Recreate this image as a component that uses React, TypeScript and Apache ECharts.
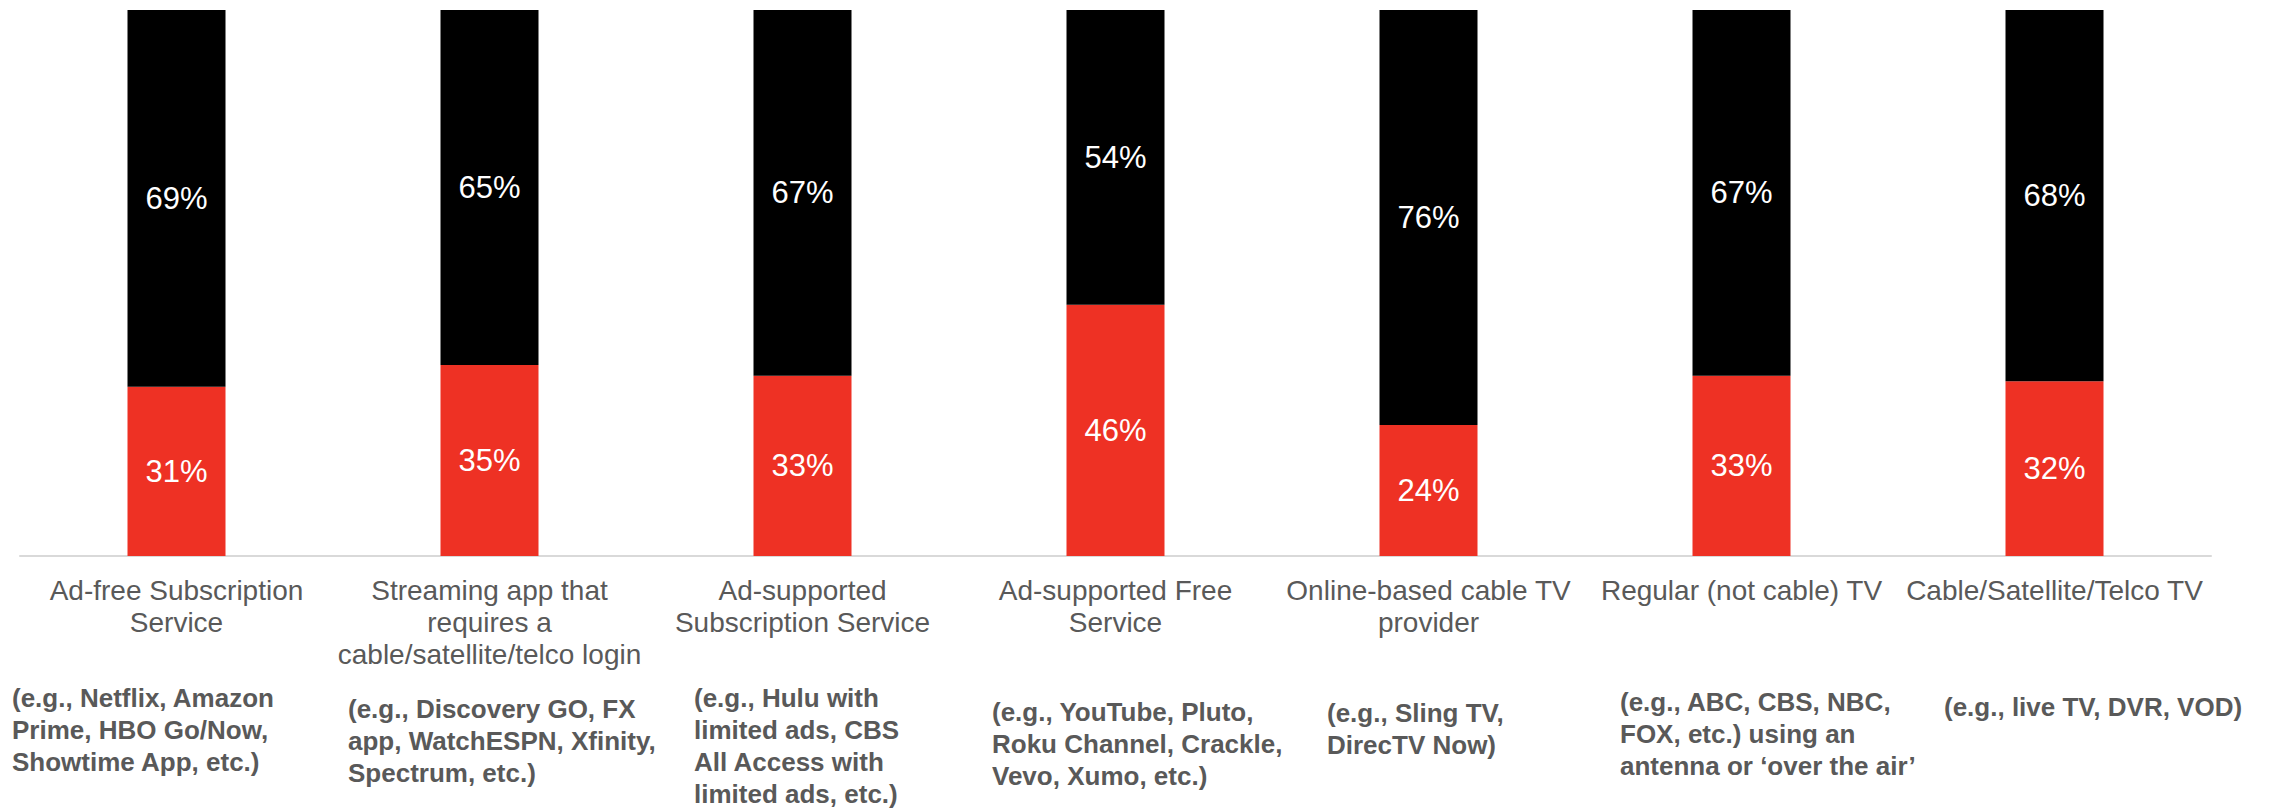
import React, { useEffect, useRef } from "react";
import * as echarts from "echarts";

const categories = [
  "Ad-free Subscription\nService",
  "Streaming app that\nrequires a\ncable/satellite/telco login",
  "Ad-supported\nSubscription Service",
  "Ad-supported Free\nService",
  "Online-based cable TV\nprovider",
  "Regular (not cable) TV",
  "Cable/Satellite/Telco TV",
];
const redValues = [31, 35, 33, 46, 24, 33, 32];
const blackValues = [69, 65, 67, 54, 76, 67, 68];
const examples = [
  "(e.g., Netflix, Amazon\nPrime, HBO Go/Now,\nShowtime App, etc.)",
  "(e.g., Discovery GO, FX\napp, WatchESPN, Xfinity,\nSpectrum, etc.)",
  "(e.g., Hulu with\nlimited ads, CBS\nAll Access with\nlimited ads, etc.)",
  "(e.g., YouTube, Pluto,\nRoku Channel, Crackle,\nVevo, Xumo, etc.)",
  "(e.g., Sling TV,\nDirecTV Now)",
  "(e.g., ABC, CBS, NBC,\nFOX, etc.) using an\nantenna or \u2018over the air\u2019",
  "(e.g., live TV, DVR, VOD)",
];
const exampleX = [12, 348, 694, 992, 1327, 1620, 1944];
const exampleTop = [682, 693, 682, 696, 697, 686, 691];

const FONT = "'Liberation Sans', Arial, sans-serif";
const GRAY = "#595959";

export default function App() {
  const ref = useRef<HTMLDivElement>(null);
  useEffect(() => {
    if (!ref.current) return;
    const chart = echarts.init(ref.current, undefined, { renderer: "svg" });
    const labelCfg = {
      show: true,
      position: "inside",
      color: "#ffffff",
      fontSize: 31,
      fontFamily: FONT,
      formatter: (p: any) => p.value + "%",
    };
    chart.setOption({
      animation: false,
      backgroundColor: "#ffffff",
      grid: { left: 20, right: 66, top: 10, bottom: 253, containLabel: false },
      xAxis: {
        type: "category",
        data: categories,
        axisLine: { show: true, lineStyle: { color: "#d9d9d9", width: 2 } },
        axisTick: { show: false },
        axisLabel: {
          interval: 0,
          margin: 18,
          color: GRAY,
          fontSize: 28,
          lineHeight: 32,
          fontFamily: FONT,
          align: "center",
        },
      },
      yAxis: {
        type: "value",
        min: 0,
        max: 100,
        show: false,
        splitLine: { show: false },
      },
      series: [
        {
          type: "bar",
          stack: "total",
          data: redValues,
          barWidth: 98,
          itemStyle: { color: "#EE3124" },
          label: labelCfg,
        },
        {
          type: "bar",
          stack: "total",
          data: blackValues,
          barWidth: 98,
          itemStyle: { color: "#000000" },
          label: labelCfg,
        },
      ],
      graphic: examples.map((t, i) => ({
        type: "text",
        left: exampleX[i],
        top: exampleTop[i],
        style: {
          text: t,
          fill: GRAY,
          fontSize: 26,
          fontWeight: "bold",
          lineHeight: 32,
          fontFamily: FONT,
          textAlign: "left",
        },
      })),
    });
    return () => chart.dispose();
  }, []);
  return (
    <div
      ref={ref}
      style={{ position: "fixed", left: 0, top: 0, width: 2277, height: 809, background: "#fff" }}
    />
  );
}
